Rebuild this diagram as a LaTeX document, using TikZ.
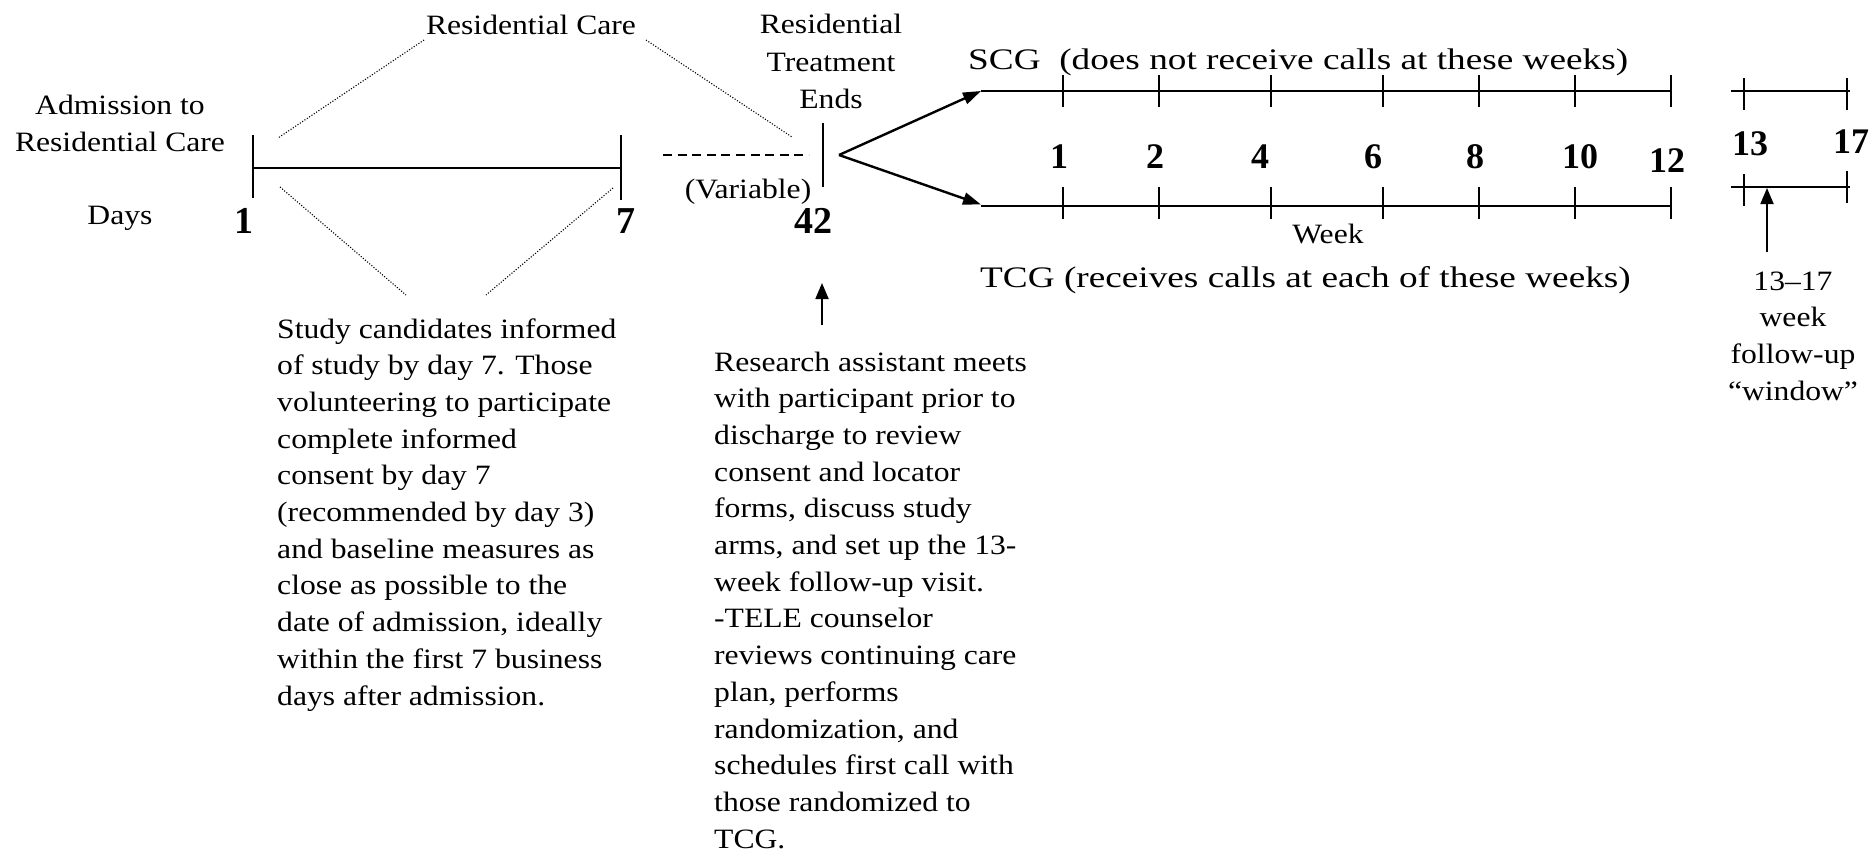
\documentclass[tikz,border=0pt]{standalone}
\usepackage{fontspec}
\setmainfont{Liberation Serif}[FakeStretch=1.13]
\newfontfamily\numfont{Liberation Serif}
\newfontfamily\widefont{Liberation Serif}[FakeStretch=1.25]
\usetikzlibrary{arrows.meta}
\tikzset{
 lbl/.style={inner sep=0pt, font=\fontsize{28}{32.75}\selectfont},
 blk/.style={inner sep=0pt, font=\fontsize{28}{36.7}\selectfont},
 biglbl/.style={inner sep=0pt, font=\widefont\fontsize{29.8}{36}\selectfont},
 num/.style={inner sep=0pt, font=\numfont\bfseries\fontsize{36}{40}\selectfont},
 dnum/.style={inner sep=0pt, font=\numfont\bfseries\fontsize{38}{42}\selectfont},
 tl/.style={line width=2.4pt},
 tickln/.style={line width=2.2pt},
 dotln/.style={line width=1.1pt, dash pattern=on 1.1pt off 1.7pt},
 dashln/.style={line width=2pt, dash pattern=on 9pt off 5.6pt},
 arr/.style={line width=2.4pt, -{Triangle[length=18pt,width=12pt]}},
 uparr/.style={line width=1.8pt, -{Triangle[length=16pt,width=13pt]}},
}
\begin{document}
\begin{tikzpicture}[x=1pt,y=-1pt]
\useasboundingbox (0,0) rectangle (1872,852);

% ---- left labels
\node[lbl,anchor=base] (adm1) at (120,114) {Admission to};
\node[lbl,anchor=base] (adm2) at (120,151) {Residential Care};
\node[lbl,anchor=base] (days) at (120,224) {Days};
\node[lbl,anchor=base] (rc) at (531,34) {Residential Care};

% ---- day timeline
\coordinate (dayL) at (253,168);
\coordinate (dayR) at (621,168);
\draw[tl] (dayL) -- (dayR);
\draw[tickln] (dayL) ++(0,-33) -- ++(0,63);
\draw[tickln] (dayR) ++(0,-33) -- ++(0,65);
\node[dnum,anchor=base] (n1) at (244,233) {1};
\node[dnum,anchor=base] (n7) at (626,233) {7};

% ---- dotted guides
\coordinate (rcA) at (424,40);
\coordinate (rcB) at (278,138);
\coordinate (rcC) at (646,40);
\coordinate (rcD) at (792,137);
\coordinate (scA) at (280,187);
\coordinate (scB) at (406,295);
\coordinate (scC) at (613,188);
\coordinate (scD) at (486,295);
\draw[dotln] (rcA) -- (rcB);
\draw[dotln] (rcC) -- (rcD);
\draw[dotln] (scA) -- (scB);
\draw[dotln] (scC) -- (scD);

% ---- treatment end
\coordinate (vL) at (663,155);
\coordinate (vR) at (809,155);
\draw[dashln] (vL) -- (vR);
\node[lbl,anchor=base] (var) at (748,198) {(Variable)};
\coordinate (e42) at (823,155);
\draw[tickln] (e42) ++(0,-32) -- ++(0,64);
\node[dnum,anchor=base] (n42) at (813,233) {42};
\node[anchor=base,inner sep=0pt,font=\fontsize{28}{37.5}\selectfont] (rte) at (831,33.5)
  {\begin{tabular}[t]{@{}c@{}}Residential\\Treatment\\Ends\end{tabular}};

% ---- fork arrows
\coordinate (fork) at (839,155);
\coordinate (scgL) at (981,91);
\coordinate (scgR) at (1671,91);
\coordinate (tcgL) at (981,206);
\coordinate (tcgR) at (1671,206);
\draw[arr] (fork) -- (scgL);
\draw[arr] (fork) -- ([yshift=1.5pt]tcgL);
\draw[tl] (scgL) -- (scgR);
\draw[tl] (tcgL) -- (tcgR);
\foreach \x in {1063,1159,1271,1383,1479,1575,1671}{
  \draw[tickln] (\x,75) -- (\x,107);
  \draw[tickln] (\x,187) -- (\x,219);
}
\node[biglbl,anchor=base west] (scg) at (968,69) {SCG\ \ (does not receive calls at these weeks)};
\node[biglbl,anchor=base west] (tcg) at (980,287) {TCG (receives calls at each of these weeks)};
\node[lbl,anchor=base] (week) at (1328,243) {Week};

\node[num,anchor=base] (w1) at (1059,168) {1};
\node[num,anchor=base] (w2) at (1155,168) {2};
\node[num,anchor=base] (w4) at (1260,168) {4};
\node[num,anchor=base] (w6) at (1373,168) {6};
\node[num,anchor=base] (w8) at (1475,168) {8};
\node[num,anchor=base] (w10) at (1580,168) {10};
\node[num,anchor=base] (w12) at (1667,172) {12};
\node[num,anchor=base] (w13) at (1750,155) {13};
\node[num,anchor=base] (w17) at (1851,153) {17};

% ---- follow-up window
\coordinate (fuTL) at (1731,91);
\coordinate (fuTR) at (1850,91);
\coordinate (fuBL) at (1731,187);
\coordinate (fuBR) at (1850,187);
\draw[tl] (fuTL) -- (fuTR);
\draw[tl] (fuBL) -- (fuBR);
\draw[tickln] (1744,78) -- (1744,110);
\draw[tickln] (1847,78) -- (1847,110);
\draw[tickln] (1744,174) -- (1744,206);
\draw[tickln] (1847,171) -- (1847,203);
\coordinate (fuS) at (1767,252);
\coordinate (fuE) at (1767,188);
\draw[uparr] (fuS) -- (fuE);
\node[anchor=base,blk] (fu) at (1793,290)
  {\begin{tabular}[t]{@{}c@{}}13–17\\week\\follow-up\\“window”\end{tabular}};

% ---- research assistant arrow
\coordinate (raS) at (822,325);
\coordinate (raE) at (822,283);
\draw[uparr] (raS) -- (raE);

% ---- text blocks
\node[blk,anchor=base west] (blockL) at (277,338)
  {\begin{tabular}[t]{@{}l@{}}
  Study candidates informed\\
  of study by day 7. Those\\
  volunteering to participate\\
  complete informed\\
  consent by day 7\\
  (recommended by day 3)\\
  and baseline measures as\\
  close as possible to the\\
  date of admission, ideally\\
  within the first 7 business\\
  days after admission.
  \end{tabular}};
\node[blk,anchor=base west] (blockR) at (714,371)
  {\begin{tabular}[t]{@{}l@{}}
  Research assistant meets\\
  with participant prior to\\
  discharge to review\\
  consent and locator\\
  forms, discuss study\\
  arms, and set up the 13-\\
  week follow-up visit.\\
  -TELE counselor\\
  reviews continuing care\\
  plan, performs\\
  randomization, and\\
  schedules first call with\\
  those randomized to\\
  TCG.
  \end{tabular}};
\end{tikzpicture}
\end{document}
